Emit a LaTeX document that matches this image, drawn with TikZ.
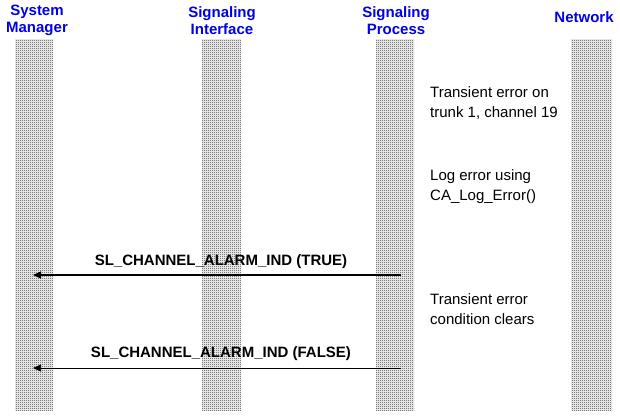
\documentclass[tikz,border=0pt]{standalone}
\usepackage{fontspec}
\setmainfont{Liberation Sans}
\usetikzlibrary{patterns,arrows.meta}
\definecolor{hdrblue}{RGB}{0,0,235}
\pgfdeclarepatternformonly{stipple}{\pgfpointorigin}{\pgfpoint{2pt}{2pt}}{\pgfpoint{2pt}{2pt}}{%
  \pgfpathrectangle{\pgfpointorigin}{\pgfpoint{1pt}{1pt}}%
  \pgfpathrectangle{\pgfpoint{1pt}{1pt}}{\pgfpoint{1pt}{1pt}}%
  \pgfusepath{fill}}
\begin{document}
\begin{tikzpicture}[x=1pt,y=-1pt,
  lifeline/.style={pattern=stipple, pattern color=black!80, draw=none},
  header/.style={text=hdrblue, font=\fontsize{15}{17}\selectfont\bfseries, align=center, inner sep=0pt},
  note/.style={font=\fontsize{15}{20}\selectfont, align=left, anchor=west, inner sep=0pt},
  msg/.style={font=\fontsize{15}{17}\selectfont\bfseries, inner sep=0pt},
  sig/.style={-{Triangle[length=8pt,width=7pt]}}
]
\useasboundingbox (0,0) rectangle (620,416);
% lifelines
\path[lifeline] (15,39) rectangle (53,410);
\path[lifeline] (202,39) rectangle (241,410);
\path[lifeline] (376,39) rectangle (414,410);
\path[lifeline] (571,39) rectangle (612,410);
% headers
\node[header] (hsm) at (37,20.5) {System\\Manager};
\node[header] (hsi) at (222,20.5) {Signaling\\Interface};
\node[header] (hsp) at (396,20.5) {Signaling\\Process};
\node[header] (hnw) at (584,17) {Network};
% notes
\node[note] (n1) at (430,103) {Transient error on\\trunk 1, channel 19};
\node[note] (n2) at (430,187) {Log error using\\CA\_Log\_Error()};
\node[note] (n3) at (430,309) {Transient error\\condition clears};
% message endpoints
\coordinate (t1s) at (401,275);
\coordinate (t1e) at (33,275);
\coordinate (t2s) at (401,368);
\coordinate (t2e) at (33,368);
\draw[sig, line width=1.4pt] (t1s) -- (t1e);
\draw[sig, line width=0.7pt] (t2s) -- (t2e);
\node[msg] (m1) at (221,262) {SL\_CHANNEL\_ALARM\_IND (TRUE)};
\node[msg] (m2) at (221,354) {SL\_CHANNEL\_ALARM\_IND (FALSE)};
\end{tikzpicture}
\end{document}
